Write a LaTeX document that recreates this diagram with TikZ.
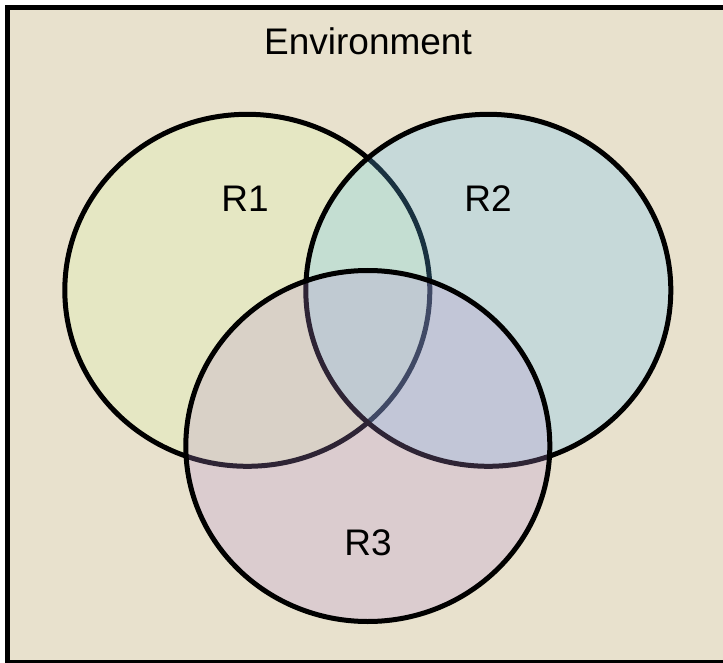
\documentclass[tikz,border=0pt]{standalone}
\usepackage{fontspec}
\setmainfont{Liberation Sans}
\definecolor{envbg}{RGB}{232,225,205}
\definecolor{rone}{RGB}{224,249,169}
\definecolor{rtwo}{RGB}{100,197,255}
\definecolor{rthree}{RGB}{184,145,213}
\tikzset{
  region/.style={line width=5pt, draw=black, fill opacity=0.25, draw opacity=1},
  lbl/.style={anchor=base, inner sep=0pt, font=\fontsize{37}{40}\selectfont}
}
\begin{document}
\begin{tikzpicture}[x=1pt,y=-1pt]
\useasboundingbox (0,0) rectangle (723,663);
\clip (0,0) rectangle (723,663);
\fill[white] (0,0) rectangle (723,663);
\draw[line width=4.5pt, fill=envbg] (7.3,7.3) rectangle (730,662.3);
\draw[region, fill=rone] (247.3,290.3) ellipse [x radius=182.5, y radius=176];
\draw[region, fill=rtwo] (488.3,290.3) ellipse [x radius=182.5, y radius=176];
\draw[region, fill=rthree] (367.8,446) ellipse [x radius=182, y radius=175.5];
\node[lbl] (env) at (368,54.3) {Environment};
\node[lbl] (r1) at (245,211.7) {R1};
\node[lbl] (r2) at (488,211.7) {R2};
\node[lbl] (r3) at (368,555) {R3};
\end{tikzpicture}
\end{document}
